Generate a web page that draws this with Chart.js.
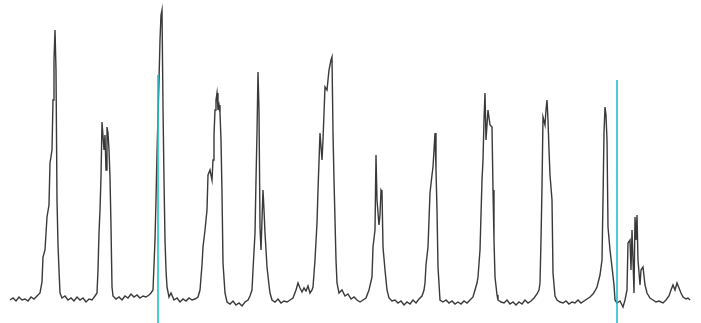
<!DOCTYPE html>
<html><head><meta charset="utf-8">
<script src="https://cdn.jsdelivr.net/npm/chart.js@4/dist/chart.umd.min.js"></script>
<style>html,body{margin:0;padding:0;background:#fff;}#wrap{width:701px;height:323px;position:relative;}</style>
</head><body><div id="wrap"><canvas id="c"></canvas></div>
<script>
const time = [10,13,16,19,22,25,28,31,34,37,40,42,43,45,47,49,50,52,53,54,55,56,57,58,59,60,62,65,68,71,74,77,80,83,86,89,92,95,97,98,99,100,101,102,104,105,106,107,108,109,110,111,112,113,116,119,122,125,128,131,134,137,140,143,146,149,151,153,155,156,157,159,160,161,162,163,164,165,166,167,169,171,174,177,180,183,186,189,192,195,198,200,202,203,205,207,208,210,212,213,214,215,216,217,218,219,220,221,222,223,225,227,230,233,236,239,242,245,248,250,252,253,255,256,257,258,259,260,261,262,263,264,265,267,269,270,272,275,278,281,284,287,290,293,296,298,300,302,304,306,308,310,312,313,315,317,318,320,322,323,325,327,329,331,332,333,334,335,336,337,339,342,345,348,351,354,357,360,363,366,369,372,373,375,376,377,379,380,381,382,383,385,387,389,392,395,398,401,404,407,410,413,416,419,422,424,425,426,428,429,430,432,433,434,435,436,437,438,440,443,446,449,452,455,458,461,464,467,470,473,475,477,478,480,482,483,484,485,486,488,490,492,493,494,495,497,498,501,504,507,510,513,516,519,522,525,528,531,534,537,539,540,541,542,543,545,546,547,548,549,550,552,553,555,557,560,563,566,569,572,575,578,581,584,587,590,593,595,597,598,600,602,603,604,605,606,607,608,610,612,614,615,617,620,623,625,627,628,630,631,632,633,634,635,636,637,638,640,641,643,645,647,650,653,656,659,663,666,669,671,673,675,677,679,681,683,686,688,690];
const signal = [23,25,22,26,23,24,22,26,24,27,30,41,66,73,106,118,160,173,223,263,293,253,123,78,53,30,25,27,23,25,22,26,23,25,21,24,23,27,30,53,90,113,146,201,173,188,153,196,190,173,146,96,36,27,24,26,23,27,25,29,26,28,25,27,26,28,30,33,83,123,170,243,283,308,313,216,143,83,53,36,26,30,23,25,21,24,22,25,23,24,26,33,58,76,93,113,148,153,143,163,188,213,223,230,213,218,210,183,130,60,30,21,19,22,18,20,17,21,23,27,33,53,90,143,190,251,213,96,73,103,133,113,90,56,38,30,23,21,24,20,22,21,23,25,33,40,35,31,35,32,37,30,33,36,63,100,133,190,163,183,236,233,253,263,266,190,143,103,63,40,30,33,27,29,24,26,23,21,23,25,33,46,76,93,168,123,98,108,133,131,76,53,33,25,22,23,20,22,18,21,19,23,20,24,27,33,40,58,76,103,130,148,156,173,190,153,113,56,23,21,23,20,22,19,21,19,22,20,23,26,33,40,46,73,143,163,203,230,183,213,198,196,133,83,46,28,23,21,20,23,19,21,18,21,19,23,20,22,25,29,33,40,83,136,206,198,213,223,203,173,148,123,50,27,23,21,20,22,19,21,20,23,20,22,24,26,29,32,36,40,48,63,123,190,216,208,183,96,73,56,38,23,20,22,16,23,33,80,83,53,93,63,30,106,83,108,63,38,53,56,38,30,25,23,21,22,20,23,27,33,38,33,40,35,30,26,24,25,23];
const markerTimes = [158, 617];
const markerTops = [248, 243];

const traceData = time.map((t, i) => ({x: t, y: signal[i]}));
const markerSets = markerTimes.map((t, i) => ({
  data: [{x: t, y: 0}, {x: t, y: markerTops[i]}],
  borderColor: '#1ec0cf', borderWidth: 1.6, pointRadius: 0, order: 0, fill: false
}));

new Chart(document.getElementById('c'), {
  type: 'line',
  data: { datasets: [
    { data: traceData, borderColor: 'rgba(30,30,30,0.88)', borderWidth: 1.4, pointRadius: 0, tension: 0, order: 1, fill: false },
    ...markerSets
  ]},
  options: {
    responsive: true, maintainAspectRatio: false, animation: false, devicePixelRatio: 1,
    layout: { padding: 0 },
    plugins: { legend: { display: false }, tooltip: { enabled: false } },
    scales: {
      x: { type: 'linear', min: 0, max: 701, display: false },
      y: { type: 'linear', min: 0, max: 323, display: false }
    }
  }
});
</script></body></html>
